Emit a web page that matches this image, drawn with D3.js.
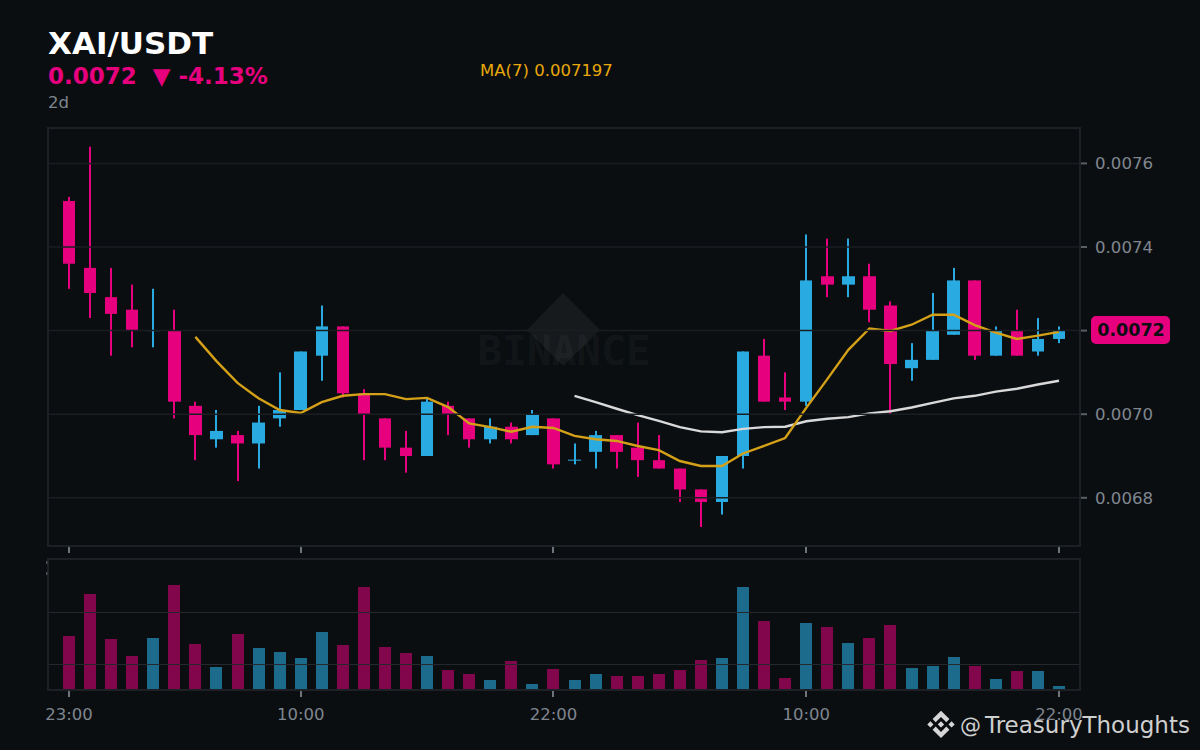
<!DOCTYPE html>
<html>
<head>
<meta charset="utf-8">
<script src="https://cdn.jsdelivr.net/npm/d3@7"></script>
<style>
  html, body { margin: 0; padding: 0; background: #0b0e11; }
  svg { display: block; font-family: "DejaVu Sans", sans-serif; }
  .axis path, .axis line { display: none; }
</style>
</head>
<body>
<div id="chart"></div>
<script>
// Values, candle by candle
const open = [0.00751,0.00735,0.00728,0.00725,0.00720,0.00720,0.00702,0.00694,0.00695,0.00693,0.00699,0.00701,0.00714,0.00721,0.00705,0.00699,0.00692,0.00690,0.00702,0.00699,0.00694,0.00697,0.00695,0.00699,0.00689,0.00691,0.00695,0.00692,0.00689,0.00687,0.00682,0.00679,0.00690,0.00714,0.00704,0.00703,0.00733,0.00731,0.00733,0.00726,0.00711,0.00713,0.00719,0.00732,0.00714,0.00720,0.00715,0.00718];
const high = [0.00752,0.00764,0.00735,0.00731,0.00730,0.00725,0.00703,0.00701,0.00696,0.00702,0.00710,0.00715,0.00726,0.00721,0.00706,0.00699,0.00696,0.00704,0.00703,0.00699,0.00699,0.00698,0.00701,0.00699,0.00693,0.00696,0.00695,0.00698,0.00695,0.00687,0.00682,0.00690,0.00715,0.00718,0.00710,0.00743,0.00742,0.00742,0.00736,0.00727,0.00717,0.00729,0.00735,0.00732,0.00721,0.00725,0.00723,0.00721];
const low = [0.00730,0.00723,0.00714,0.00716,0.00716,0.00699,0.00689,0.00692,0.00684,0.00687,0.00697,0.00701,0.00708,0.00704,0.00689,0.00689,0.00686,0.00690,0.00695,0.00692,0.00693,0.00693,0.00695,0.00687,0.00688,0.00687,0.00687,0.00685,0.00687,0.00679,0.00673,0.00676,0.00687,0.00703,0.00701,0.00702,0.00728,0.00728,0.00722,0.00700,0.00708,0.00713,0.00719,0.00713,0.00714,0.00714,0.00714,0.00717];
const close = [0.00736,0.00729,0.00724,0.00720,0.00720,0.00703,0.00695,0.00696,0.00693,0.00698,0.00701,0.00715,0.00721,0.00705,0.00700,0.00692,0.00690,0.00703,0.00700,0.00694,0.00697,0.00694,0.00700,0.00688,0.00689,0.00695,0.00691,0.00689,0.00687,0.00682,0.00679,0.00690,0.00715,0.00703,0.00703,0.00732,0.00731,0.00733,0.00725,0.00712,0.00713,0.00720,0.00732,0.00714,0.00720,0.00714,0.00718,0.00720];
const volume = [53.5,95.5,50.5,33.5,51.5,104.5,45.5,22.5,55.5,41.5,37.5,31.5,57.5,44.5,102.5,42.5,36.5,33.5,19.5,15.5,9.5,28.5,5.5,20.5,9.5,15.5,13.5,13.5,15.5,19.5,29.5,31.5,102.5,68.5,11.5,66.5,62.5,46.5,51.5,64.5,21.5,23.5,32.5,23.5,10.5,18.5,18.5,3.5];
// MA(7) starts at candle 6, the white MA(25) at candle 24
const ma7 = [0.007185,0.007127,0.007075,0.007038,0.00701,0.007003,0.007029,0.007044,0.007048,0.007048,0.007036,0.007039,0.007017,0.006978,0.006969,0.006958,0.00697,0.006967,0.006948,0.00694,0.006936,0.006924,0.006914,0.006888,0.006876,0.006876,0.006906,0.006924,0.006943,0.007015,0.007084,0.007154,0.007205,0.007199,0.007214,0.007238,0.007238,0.007213,0.007195,0.00718,0.007188,0.007197];
const ma25 = [0.007044,0.007029,0.007013,0.006998,0.006984,0.006969,0.006959,0.006957,0.006965,0.006969,0.00697,0.006983,0.006989,0.006993,0.007002,0.007007,0.007016,0.007027,0.007038,0.007044,0.007054,0.007061,0.007071,0.00708];
const priceTicks = [0.0068, 0.0070, 0.0072, 0.0074, 0.0076];
const lastPrice = 0.0072;
const volumeGrid = [25, 77];
const timeTicks = [0, 11, 23, 35, 47];
const timeLabels = ['23:00', '10:00', '22:00', '10:00', '22:00'];

const svgWidth = 1200;
const svgHeight = 750;

// Colours
const bg = '#0b0e11';
const pink = '#e6007e';
const blue = '#29abe2';
const border = '#1d2125';
const grid = '#1a1e22';
const muted = '#7f868f';

// Binance mark, as a 126.6 unit square
const logoPath = 'M38.73 53.2L63.3 28.63l24.58 24.58 14.29-14.3L63.3 0 24.44 38.91zM0 63.3l14.3-14.29L28.59 63.3 14.3 77.6zM38.73 73.42L63.3 98l24.58-24.58 14.3 14.29L63.3 126.6 24.44 87.72zM98 63.31l14.3-14.29 14.3 14.29-14.3 14.3zM77.79 63.3L63.3 48.81 52.58 59.52l-1.23 1.23-2.54 2.54 14.49 14.5 14.49-14.5z';

let svg = d3.select('#chart').append('svg')
  .attr('width', svgWidth)
  .attr('height', svgHeight);

svg.append('rect')
  .attr('width', svgWidth)
  .attr('height', svgHeight)
  .attr('fill', bg);

// Scales
let x = d3.scaleLinear().domain([0, 47]).range([69, 1059]);
let y = d3.scaleLinear().domain([0.0076, 0.0068]).range([163.4, 497.8]);
let yVol = d3.scaleLinear().domain([0, 130]).range([689.5, 559.5]);

// Header
svg.append('text').attr('x', 48).attr('y', 53.5)
  .attr('font-size', 31).attr('font-weight', 'bold').attr('fill', '#ffffff')
  .text('XAI/USDT');
svg.append('text').attr('x', 48).attr('y', 84).attr('xml:space', 'preserve')
  .attr('font-size', 23).attr('font-weight', 'bold').attr('fill', pink)
  .text('0.0072  ▼ -4.13%');
svg.append('text').attr('x', 48).attr('y', 108)
  .attr('font-size', 16.5).attr('fill', muted)
  .text('2d');
svg.append('text').attr('x', 480).attr('y', 76)
  .attr('font-size', 16.5).attr('fill', '#e8a80c')
  .text('MA(7) 0.007197');

// Binance watermark behind the candles
let mark = svg.append('g');
mark.append('path')
  .attr('d', 'M563,293 L600,330 L563,366 L527,330 Z')
  .attr('fill', '#ffffff').attr('fill-opacity', 0.05);
mark.append('text').attr('x', 564).attr('y', 365)
  .attr('text-anchor', 'middle')
  .attr('font-family', '"DejaVu Sans Mono", monospace')
  .attr('font-size', 41).attr('font-weight', 'bold')
  .attr('fill', '#ffffff').attr('fill-opacity', 0.045)
  .text('BINANCE');

// Candles
let candles = svg.append('g').selectAll('g')
  .data(d3.range(open.length))
  .enter()
  .append('g')
  .attr('fill', i => close[i] >= open[i] ? blue : pink);

candles.append('rect')
  .attr('x', i => Math.round(x(i)) - 1)
  .attr('width', 2)
  .attr('y', i => y(high[i]))
  .attr('height', i => y(low[i]) - y(high[i]));

candles.append('rect')
  .attr('x', i => Math.round(x(i) - 6.25))
  .attr('width', i => Math.round(x(i) + 6.25) - Math.round(x(i) - 6.25))
  .attr('y', i => open[i] === close[i] ? y(open[i]) - 0.5 : y(Math.max(open[i], close[i])))
  .attr('height', i => Math.max(1, Math.abs(y(open[i]) - y(close[i]))));

// Moving averages
let lineFrom = start => d3.line()
  .x((d, i) => x(i + start))
  .y(d => y(d));

svg.append('path').datum(ma25)
  .attr('d', lineFrom(24))
  .attr('fill', 'none').attr('stroke', '#d9d9d9').attr('stroke-width', 2.4);
svg.append('path').datum(ma7)
  .attr('d', lineFrom(6))
  .attr('fill', 'none').attr('stroke', '#d4a017').attr('stroke-width', 2.4);

// Gridlines sit on top of the candles in the reference
svg.append('g').selectAll('line')
  .data(priceTicks)
  .enter()
  .append('line')
  .attr('x1', 49).attr('x2', 1080)
  .attr('y1', d => y(d)).attr('y2', d => y(d))
  .attr('stroke', grid).attr('stroke-width', 1.5);

// Volume bars
svg.append('g').selectAll('rect')
  .data(volume)
  .enter()
  .append('rect')
  .attr('x', (d, i) => Math.round(x(i) - 6))
  .attr('width', 12)
  .attr('y', d => yVol(d))
  .attr('height', d => yVol(0) - yVol(d))
  .attr('fill', (d, i) => close[i] >= open[i] ? '#1c6a8c' : '#82064c');

svg.append('g').selectAll('line')
  .data(volumeGrid)
  .enter()
  .append('line')
  .attr('x1', 49).attr('x2', 1080)
  .attr('y1', d => yVol(d)).attr('y2', d => yVol(d))
  .attr('stroke', '#24282c').attr('stroke-width', 1);

// Pane frames
[[48, 128, 1032, 418], [48, 559, 1032, 131]].forEach(p => {
  svg.append('rect')
    .attr('x', p[0]).attr('y', p[1]).attr('width', p[2]).attr('height', p[3])
    .attr('fill', 'none').attr('stroke', border).attr('stroke-width', 2);
});

// Two clipped crumbs of a hidden axis label left of the volume pane
[561, 572].forEach(top => {
  svg.append('rect')
    .attr('x', 46).attr('y', top).attr('width', 1.5).attr('height', 3)
    .attr('fill', '#4a4f55');
});

// Right axis, the last price tag takes the place of its label
let yAxis = svg.append('g')
  .attr('class', 'axis')
  .attr('transform', 'translate(1080, 0)')
  .call(d3.axisRight(y)
    .tickValues(priceTicks.filter(d => d !== lastPrice))
    .tickFormat(d3.format('.4f'))
    .tickPadding(9));
yAxis.selectAll('text').attr('font-size', 16.6).attr('fill', muted).attr('font-family', '"DejaVu Sans", sans-serif');

svg.append('g').selectAll('line')
  .data(priceTicks)
  .enter()
  .append('line')
  .attr('x1', 1081).attr('x2', 1087)
  .attr('y1', d => y(d)).attr('y2', d => y(d))
  .attr('stroke', '#5a5f66').attr('stroke-width', 2);

// Time ticks under both panes
[547, 691].forEach(top => {
  svg.append('g').selectAll('line')
    .data(timeTicks)
    .enter()
    .append('line')
    .attr('x1', d => Math.round(x(d))).attr('x2', d => Math.round(x(d)))
    .attr('y1', top).attr('y2', top + 6)
    .attr('stroke', '#6f757d').attr('stroke-width', 2);
});

let xAxis = svg.append('g')
  .attr('class', 'axis')
  .attr('transform', 'translate(-0.5, 690)')
  .call(d3.axisBottom(x).tickValues(timeTicks).tickFormat((d, i) => timeLabels[i]).tickPadding(12));
xAxis.selectAll('text').attr('font-size', 16.5).attr('fill', muted).attr('font-family', '"DejaVu Sans", sans-serif');

// Current price tag
svg.append('rect')
  .attr('x', 1091).attr('y', 316).attr('width', 79).attr('height', 28).attr('rx', 5)
  .attr('fill', pink);
svg.append('text')
  .attr('x', 1131).attr('y', y(lastPrice) + 5)
  .attr('text-anchor', 'middle')
  .attr('font-size', 17.5).attr('font-weight', 'bold').attr('fill', bg)
  .text(d3.format('.4f')(lastPrice));

// Bottom right handle
let handle = svg.append('g');
handle.append('path')
  .attr('d', logoPath)
  .attr('transform', 'translate(927.3, 710.7) scale(0.2164)')
  .attr('fill', '#d6d6d6');
handle.append('text').attr('x', 960).attr('y', 733)
  .attr('font-size', 21).attr('fill', '#cfcfcf')
  .text('@');
handle.append('text').attr('x', 985).attr('y', 733)
  .attr('font-size', 23).attr('fill', '#cfcfcf')
  .text('TreasuryThoughts');
</script>
</body>
</html>
